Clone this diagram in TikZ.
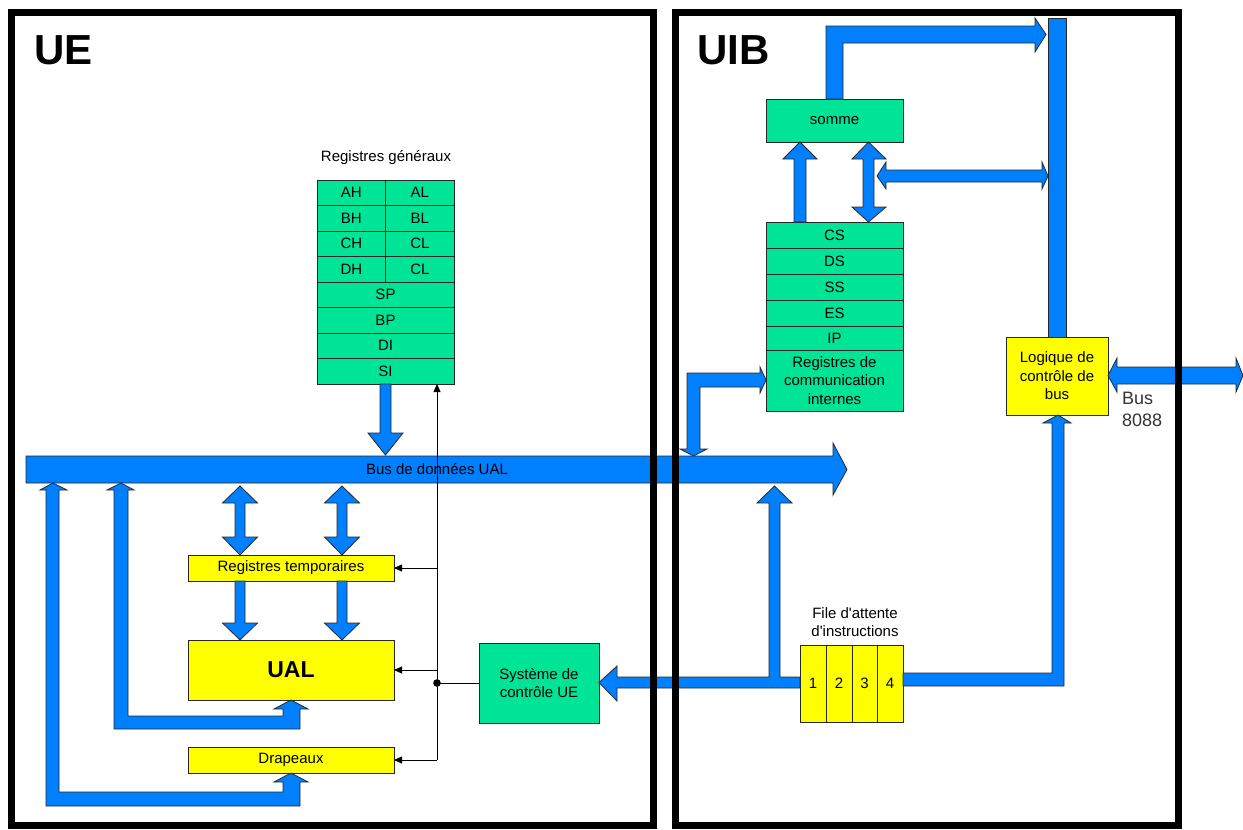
\documentclass[tikz,border=0pt]{standalone}
\usepackage{fontspec}
\setmainfont{Liberation Sans}
\usetikzlibrary{arrows.meta}
\definecolor{busblue}{RGB}{0,128,255}
\definecolor{reggreen}{RGB}{0,228,152}
\definecolor{boxyellow}{RGB}{255,255,0}
\definecolor{edgegray}{RGB}{40,40,40}
\tikzset{
  cell/.style={draw=edgegray, line width=0.9pt, inner sep=0pt, outer sep=0pt, anchor=north west,
    font=\fontsize{15}{18.5}\selectfont, align=center},
  gcell/.style={cell, fill=reggreen},
  ycell/.style={cell, fill=boxyellow},
  fat/.style={fill=busblue, draw=edgegray, line width=0.8pt, line join=miter},
  frameline/.style={draw=black, line width=7pt},
  ctl/.style={draw=black, line width=0.8pt},
  ctlarrow/.style={ctl, -{Triangle[length=8pt,width=7pt]}},
  lbl/.style={font=\fontsize{15}{18.5}\selectfont, align=center, inner sep=0pt},
  biglbl/.style={font=\fontsize{42}{42}\selectfont\bfseries, anchor=base west, inner sep=0pt},
}
\begin{document}
\begin{tikzpicture}[x=1pt,y=-1pt]
\useasboundingbox (0,0) rectangle (1243,830);
\fill[white] (0,0) rectangle (1243,830);

% ---------- Registres generaux ----------
\node[lbl] (rgtitle) at (386,158) {Registres généraux};
\node[gcell,minimum width=68.7pt,minimum height=25.5pt] (AH) at (317,180) {AH};
\node[gcell,minimum width=68.3pt,minimum height=25.5pt] (AL) at (385.7,180) {AL};
\node[gcell,minimum width=68.7pt,minimum height=25.5pt] (BH) at (317,205.5) {BH};
\node[gcell,minimum width=68.3pt,minimum height=25.5pt] (BL) at (385.7,205.5) {BL};
\node[gcell,minimum width=68.7pt,minimum height=25.5pt] (CH) at (317,231) {CH};
\node[gcell,minimum width=68.3pt,minimum height=25.5pt] (CL) at (385.7,231) {CL};
\node[gcell,minimum width=68.7pt,minimum height=25.5pt] (DH) at (317,256.5) {DH};
\node[gcell,minimum width=68.3pt,minimum height=25.5pt] (DL) at (385.7,256.5) {CL};
\node[gcell,minimum width=137pt,minimum height=25.5pt] (SP) at (317,282) {SP};
\node[gcell,minimum width=137pt,minimum height=25.5pt] (BP) at (317,307.5) {BP};
\node[gcell,minimum width=137pt,minimum height=25.5pt] (DI) at (317,333) {DI};
\node[gcell,minimum width=137pt,minimum height=25.5pt] (SI) at (317,358.5) {SI};

% ---------- UE boxes ----------
\node[ycell,minimum width=206pt,minimum height=26pt] (rtemp) at (188,555) {Registres temporaires};
\node[ycell,minimum width=206pt,minimum height=60pt,font=\fontsize{23}{23}\selectfont\bfseries] (ual) at (188,640) {UAL};
\node[ycell,minimum width=206pt,minimum height=26pt] (drap) at (188,747) {Drapeaux};
\node[gcell,minimum width=120pt,minimum height=80pt] (sys) at (479,643) {Système de\\contrôle UE};

% ---------- UIB boxes ----------
\node[gcell,minimum width=137pt,minimum height=43pt] (somme) at (766,99) {somme};
\node[gcell,minimum width=137pt,minimum height=26pt] (CS) at (766,222) {CS};
\node[gcell,minimum width=137pt,minimum height=26pt] (DS) at (766,248) {DS};
\node[gcell,minimum width=137pt,minimum height=26pt] (SS) at (766,274) {SS};
\node[gcell,minimum width=137pt,minimum height=26pt] (ES) at (766,300) {ES};
\node[gcell,minimum width=137pt,minimum height=24pt] (IP) at (766,326) {IP};
\node[gcell,minimum width=137pt,minimum height=61pt] (rcom) at (766,350) {Registres de\\communication\\internes};
\node[ycell,minimum width=102pt,minimum height=78pt] (logic) at (1006,337) {Logique de\\contrôle de\\bus};
\node[lbl] (qtitle) at (855,622) {File d\textquotesingle attente\\d\textquotesingle instructions};
\node[ycell,minimum width=26pt,minimum height=77pt] (q1) at (800,645) {1};
\node[ycell,minimum width=26pt,minimum height=77pt] (q2) at (826,645) {2};
\node[ycell,minimum width=25pt,minimum height=77pt] (q3) at (852,645) {3};
\node[ycell,minimum width=26pt,minimum height=77pt] (q4) at (877,645) {4};
\node[anchor=west, align=left, inner sep=0pt, text=black!80, font=\fontsize{18}{22}\selectfont] (bus8088) at (1122,409) {Bus\\8088};

% ---------- fat arrows ----------
% data bus
\draw[fat] (26,456) -- (833,456) -- (833,443) -- (847,469.5) -- (833,495) -- (833,483) -- (26,483) -- cycle;
\node[lbl] (busual) at (437,469) {Bus de données UAL};
% registres generaux -> bus
\draw[fat] (380,384) -- (391,384) -- (391,433) -- (403,433) -- (385.5,455) -- (368,433) -- (380,433) -- cycle;
% bus <-> registres temporaires
\foreach \cx in {240,342}{
  \draw[fat] (\cx,486) -- (\cx+17.5,503) -- (\cx+5,503) -- (\cx+5,537) -- (\cx+17.5,537) -- (\cx,555)
    -- (\cx-17.5,537) -- (\cx-5,537) -- (\cx-5,503) -- (\cx-17.5,503) -- cycle;
  \draw[fat] (\cx-5,581) -- (\cx+5,581) -- (\cx+5,623) -- (\cx+17.5,623) -- (\cx,640) -- (\cx-17.5,623) -- (\cx-5,623) -- cycle;
}
% UAL <-> bus
\draw[fat] (121,483) -- (134,490) -- (128,490) -- (128,716) -- (283,716) -- (283,709) -- (274,709) -- (291,700)
  -- (308,709) -- (300,709) -- (300,729) -- (114,729) -- (114,490) -- (107,490) -- cycle;
% Drapeaux <-> bus
\draw[fat] (53,483) -- (67,490) -- (59,490) -- (59,792) -- (283,792) -- (283,782) -- (274,782) -- (291,773)
  -- (308,782) -- (300,782) -- (300,806) -- (46,806) -- (46,490) -- (40,490) -- cycle;
% bus <-> registres de communication
\draw[fat] (693.5,456) -- (707,449) -- (700,449) -- (700,387) -- (760,387) -- (760,393) -- (766,380)
  -- (760,367) -- (760,373) -- (687,373) -- (687,449) -- (680,449) -- cycle;
% file d'attente -> systeme de controle, branch to bus
\draw[fat] (800,677) -- (780,677) -- (780,503) -- (792,503) -- (774.5,486) -- (757,503) -- (769,503) -- (769,677)
  -- (617,677) -- (617,666) -- (599,682.5) -- (617,701) -- (617,688) -- (800,688) -- cycle;
% file d'attente <- logique
\draw[fat] (903,673) -- (1052,673) -- (1052,423) -- (1043,423) -- (1058,415) -- (1071,423) -- (1064,423)
  -- (1064,686) -- (903,686) -- cycle;
% vertical bus bar
\draw[fat] (1048,18) rectangle (1066,337);
% somme -> bus bar
\draw[fat] (826,99) -- (826,26) -- (1035,26) -- (1035,18) -- (1046,34.5) -- (1035,52) -- (1035,43) -- (843,43) -- (843,99) -- cycle;
% CS -> somme
\draw[fat] (794,222) -- (794,159) -- (783,159) -- (800,142) -- (817,159) -- (806,159) -- (806,222) -- cycle;
% somme <-> CS
\draw[fat] (868.5,142) -- (886,159) -- (874,159) -- (874,207) -- (886,207) -- (868.5,222) -- (852,207) -- (863,207)
  -- (863,159) -- (852,159) -- cycle;
% double horizontal to bus bar
\draw[fat] (877,176) -- (886,162) -- (886,170) -- (1042,170) -- (1042,162) -- (1048,176) -- (1042,189) -- (1042,182)
  -- (886,182) -- (886,189) -- cycle;
% Bus 8088
\draw[fat] (1108,375.5) -- (1117,358) -- (1117,367) -- (1236,367) -- (1236,358) -- (1243,375.5) -- (1236,392)
  -- (1236,384) -- (1117,384) -- (1117,392) -- cycle;

% ---------- control lines ----------
\coordinate (cb) at (437,760);
\coordinate (cdot) at (437,683);
\draw[ctlarrow] (cb) -- (cb |- SI.south);
\draw[ctlarrow] (rtemp.east -| cb) -- (rtemp.east);
\draw[ctlarrow] (ual.east -| cb) -- (ual.east);
\draw[ctlarrow] (drap.east -| cb) -- (drap.east);
\draw[ctl] (cdot) -- (sys.west |- cdot);
\fill (cdot) circle (3.8pt);

% ---------- frames ----------
\draw[frameline] (11.5,12.5) rectangle (653.5,825);
\draw[frameline] (675.5,12.5) rectangle (1178.5,825);
\node[biglbl] (ue) at (34,64) {UE};
\node[biglbl] (uib) at (697,64) {UIB};
\end{tikzpicture}
\end{document}
